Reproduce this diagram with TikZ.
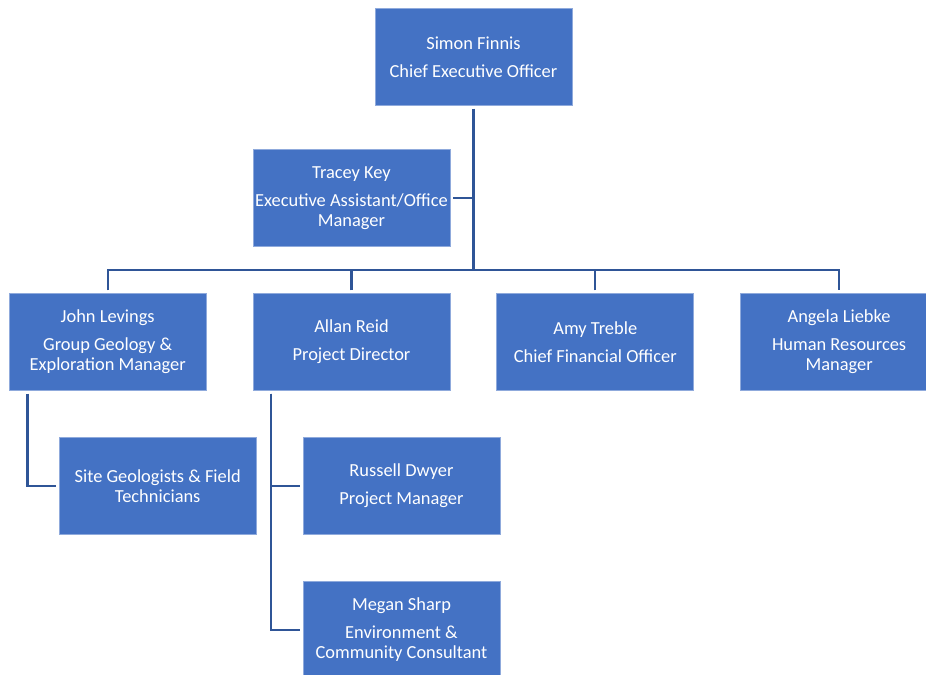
\documentclass[tikz,border=0pt]{standalone}
\usepackage{fontspec}
\setmainfont{Carlito}
\usepackage{xcolor}
\usetikzlibrary{positioning}

\definecolor{boxblue}{RGB}{68,114,196}
\definecolor{edgeblue}{RGB}{143,170,220}
\definecolor{lineblue}{RGB}{47,85,151}

\tikzset{
  person/.style={rectangle, fill=boxblue, draw=edgeblue, line width=0.6pt,
    text=white, minimum width=147.75pt, minimum height=72.75pt,
    align=center, inner sep=0pt, font=\fontsize{13.8}{15}\selectfont},
  link/.style={draw=lineblue, line width=1.6pt},
}

\begin{document}
\begin{tikzpicture}[x=0.75pt, y=-0.75pt, node distance=34.5pt]
    \useasboundingbox (0,0) rectangle (926,675);
    \node[person] (ceo) at (473.5,57) {Simon Finnis\\[6pt]Chief Executive Officer};
    \node[person] (allan) at (351.5,342) {Allan Reid\\[6pt]Project Director};
    \node[person, above=of allan] (tracey) {Tracey Key\\[6pt]Executive Assistant/Office\\Manager};
    \node[person, left=of allan] (john) {John Levings\\[6pt]Group Geology \&\\Exploration Manager};
    \node[person, right=of allan] (amy) {Amy Treble\\[6pt]Chief Financial Officer};
    \node[person, right=of amy] (angela) {Angela Liebke\\[6pt]Human Resources\\Manager};
    \node[person, below=of john, xshift=37.5pt] (site) {Site Geologists \& Field\\Technicians};
    \node[person, below=of allan, xshift=37.5pt] (russell) {Russell Dwyer\\[6pt]Project Manager};
    \node[person, below=of russell] (megan) {Megan Sharp\\[6pt]Environment \&\\Community Consultant};

    \coordinate (bus) at (473.5,270);
    \coordinate (jdrop) at ([xshift=14pt]john.south west);
    \coordinate (adrop) at ([xshift=14pt]allan.south west);

    \draw[link, shorten <=2pt] (ceo.south) -- (bus);
    \draw[link, shorten <=2pt, shorten >=2pt] (john.north) |- (bus) -| (angela.north);
    \draw[link, shorten <=2pt] (allan.north) -- (allan.north |- bus);
    \draw[link, shorten <=2pt] (amy.north) -- (amy.north |- bus);
    \draw[link, shorten <=2pt] (tracey.east) -- (tracey.east -| bus);
    \draw[link, shorten <=2pt, shorten >=2pt] (jdrop) |- (site.west);
    \draw[link, shorten <=2pt, shorten >=2pt] (adrop) |- (russell.west);
    \draw[link, shorten <=2pt, shorten >=2pt] (adrop) |- (megan.west);
\end{tikzpicture}
\end{document}
